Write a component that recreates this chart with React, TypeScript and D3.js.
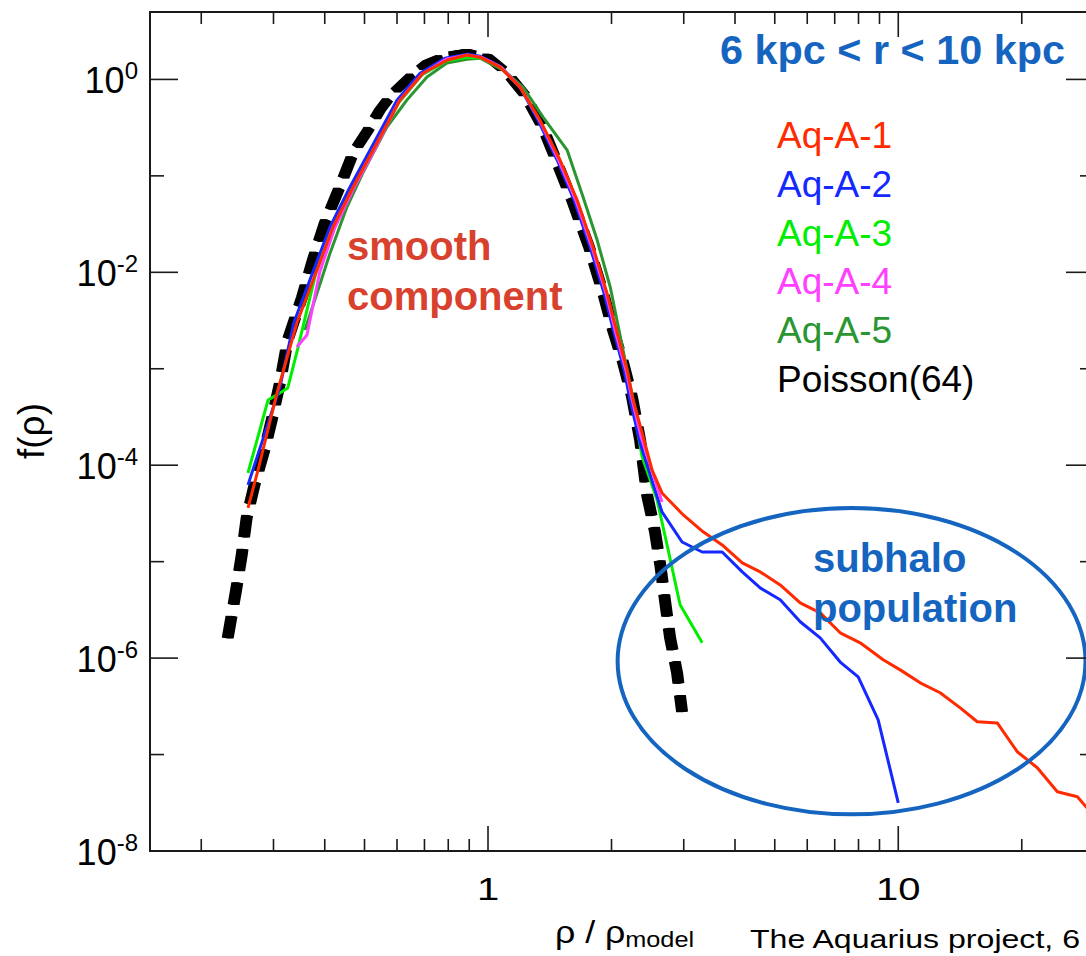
import React from 'react';
import * as d3 from 'd3';

const W = 1086;
const H = 956;
const FONT = "'Liberation Sans', Arial, Helvetica, sans-serif";

// ---- axes ----
const xDomain = [0.15, 30];
const yDomain = [1e-8, 5];
const xMajorTicks = [1, 10];
const xTickLabels = ['1', '10'];
const xMinorTicks = [0.2, 0.3, 0.4, 0.5, 0.6, 0.7, 0.8, 0.9, 2, 3, 4, 5, 6, 7, 8, 9, 20, 30];
const yMajorTicks = [1, 1e-2, 1e-4, 1e-6, 1e-8];
const yTickExponents = ['0', '-2', '-4', '-6', '-8'];
const yMinorTicks = [1e-1, 1e-3, 1e-5, 1e-7];

// ---- series ----
const poissonX = [0.232, 0.243, 0.251, 0.258, 0.270, 0.286, 0.297, 0.311, 0.325, 0.352, 0.374, 0.400, 0.435, 0.469, 0.510, 0.545, 0.586, 0.645, 0.710, 0.794, 0.889, 1.0, 1.108, 1.231, 1.362, 1.465, 1.602, 1.763, 1.908, 2.017, 2.133, 2.244, 2.348, 2.442, 2.553, 2.630, 2.703, 2.779, 2.890, 2.972];
const poissonY = [1.62e-6, 4.98e-6, 1.17e-5, 2.84e-5, 6.4e-5, 1.51e-4, 2.94e-4, 7.1e-4, 1.99e-3, 5.5e-3, 1.34e-2, 3.25e-2, 7.66e-2, 0.172, 0.298, 0.480, 0.721, 1.06, 1.48, 1.79, 1.92, 1.70, 1.19, 0.687, 0.313, 0.146, 0.0561, 0.0183, 6.09e-3, 2.52e-3, 1.17e-3, 5.1e-4, 1.83e-4, 4.92e-5, 2.04e-5, 9.25e-6, 3.83e-6, 1.62e-6, 7.03e-7, 2.77e-7];

const aqA1X = [0.260, 0.275, 0.306, 0.342, 0.383, 0.419, 0.469, 0.536, 0.610, 0.694, 0.794, 0.889, 0.956, 1.070, 1.197, 1.339, 1.498, 1.649, 1.803, 1.950, 2.065, 2.183, 2.258, 2.375, 2.512, 2.655, 2.992, 3.344, 3.722, 4.166, 4.607, 5.155, 5.768, 6.452, 7.219, 8.076, 9.187, 10.11, 11.31, 12.65, 14.16, 15.58, 17.43, 19.50, 21.82, 24.42, 27.33, 29.39];
const aqA1Y = [3.61e-5, 8.9e-5, 5.61e-4, 2.98e-3, 0.0106, 0.0295, 0.0766, 0.219, 0.610, 1.16, 1.58, 1.79, 1.70, 1.34, 0.832, 0.379, 0.146, 0.0561, 0.0183, 6.09e-3, 2.35e-3, 9.7e-4, 4.75e-4, 2.16e-4, 8.9e-5, 5.16e-5, 3.05e-5, 2.04e-5, 1.49e-5, 9.7e-6, 7.83e-6, 5.74e-6, 3.74e-6, 2.94e-6, 1.83e-6, 1.44e-6, 9.6e-7, 7.55e-7, 5.54e-7, 4.37e-7, 3.05e-7, 2.19e-7, 2.13e-7, 1.07e-7, 7.3e-8, 4.11e-8, 3.65e-8, 2.55e-8];

const aqA2X = [0.260, 0.311, 0.336, 0.376, 0.412, 0.461, 0.527, 0.600, 0.683, 0.785, 0.889, 0.956, 1.070, 1.197, 1.324, 1.474, 1.621, 1.773, 1.918, 2.029, 2.147, 2.219, 2.348, 2.655, 2.972, 3.327, 3.722, 4.166, 4.607, 5.155, 5.768, 6.452, 7.219, 7.985, 8.933, 10.0];
const aqA2Y = [6.25e-5, 6.47e-4, 2.98e-3, 0.0106, 0.0295, 0.0766, 0.219, 0.610, 1.16, 1.66, 1.83, 1.74, 1.37, 0.832, 0.379, 0.146, 0.0561, 0.0183, 6.09e-3, 2.35e-3, 9.7e-4, 4.75e-4, 1.70e-4, 3.28e-5, 1.60e-5, 1.26e-5, 1.26e-5, 7.83e-6, 5.35e-6, 4.02e-6, 2.38e-6, 1.62e-6, 9.1e-7, 6.39e-7, 2.29e-7, 3.16e-8];

const aqA3X = [0.260, 0.291, 0.311, 0.325, 0.344, 0.381, 0.419, 0.466, 0.533, 0.607, 0.690, 0.790, 0.889, 0.967, 1.082, 1.203, 1.339, 1.490, 1.640, 1.794, 1.941, 2.052, 2.171, 2.244, 2.375, 2.583, 2.748, 2.939, 3.327];
const aqA3Y = [8.3e-5, 4.75e-4, 5.61e-4, 6.32e-4, 1.64e-3, 0.0101, 0.0288, 0.0748, 0.208, 0.581, 1.11, 1.55, 1.70, 1.66, 1.31, 0.812, 0.360, 0.139, 0.0535, 0.0174, 5.81e-3, 2.24e-3, 9.3e-4, 4.75e-4, 1.22e-4, 4.37e-5, 1.33e-5, 3.57e-6, 1.44e-6];

const aqA4X = [0.342, 0.362, 0.389, 0.423, 0.471, 0.536, 0.607, 0.690, 0.790, 0.889, 0.962, 1.076, 1.203, 1.339, 1.490, 1.640, 1.794, 1.941, 2.052, 2.171, 2.244, 2.361, 2.655];
const aqA4Y = [1.68e-3, 2.24e-3, 0.0101, 0.0288, 0.0748, 0.208, 0.595, 1.13, 1.62, 1.79, 1.70, 1.34, 0.812, 0.369, 0.142, 0.0548, 0.0179, 5.96e-3, 2.29e-3, 9.5e-4, 4.87e-4, 1.96e-4, 4.17e-5];

const aqA5X = [0.358, 0.412, 0.453, 0.495, 0.567, 0.634, 0.710, 0.794, 0.889, 0.956, 1.088, 1.217, 1.362, 1.559, 1.705, 1.845, 1.986, 2.133, 2.271];
const aqA5Y = [2.52e-3, 0.0158, 0.0475, 0.107, 0.321, 0.610, 1.06, 1.48, 1.62, 1.66, 1.25, 0.832, 0.407, 0.185, 0.0603, 0.0216, 7.03e-3, 1.57e-3, 4.22e-4];

const legendLabels = ['Aq-A-1', 'Aq-A-2', 'Aq-A-3', 'Aq-A-4', 'Aq-A-5', 'Poisson(64)'];
const legendColors = ['#ff2a00', '#1428ff', '#00ee00', '#ff40ff', '#2a9632', '#000000'];

// annotation ellipse bounds (data space)
const ellipseXRange = [2.07, 28.6];
const ellipseYRange = [2.4e-8, 3.6e-5];

const ANN_BLUE = '#1565c0';
const ANN_RED = '#d8412e';

function pairs(xs: number[], ys: number[]): [number, number][] {
  const n = Math.min(xs.length, ys.length);
  const out: [number, number][] = [];
  for (let i = 0; i < n; i++) out.push([xs[i], ys[i]]);
  return out;
}

export default function App() {
  const x = d3.scaleLog().domain(xDomain).range([150, 1094]);
  const y = d3.scaleLog().domain(yDomain).range([851, 12]);
  const line = d3.line<[number, number]>().x(d => x(d[0])).y(d => y(d[1]));

  const left = x.range()[0];
  const right = x.range()[1];
  const bottom = y.range()[0];
  const top = y.range()[1];

  const colored = [
    { xs: aqA5X, ys: aqA5Y, color: legendColors[4] },
    { xs: aqA3X, ys: aqA3Y, color: legendColors[2] },
    { xs: aqA2X, ys: aqA2Y, color: legendColors[1] },
    { xs: aqA4X, ys: aqA4Y, color: legendColors[3] },
    { xs: aqA1X, ys: aqA1Y, color: legendColors[0] },
  ];

  const poissonPath = line(pairs(poissonX, poissonY)) || '';
  const penOffsets = [-3, -2, -1, 0, 1, 2, 3];

  const ex0 = x(ellipseXRange[0]);
  const ex1 = x(ellipseXRange[1]);
  const ey0 = y(ellipseYRange[1]);
  const ey1 = y(ellipseYRange[0]);

  const axisColor = '#1a1a1a';

  return (
    <svg width={W} height={H} style={{ position: 'absolute', left: 0, top: 0, background: '#fff' }} fontFamily={FONT}>
      <defs>
        <clipPath id="plotclip">
          <rect x={left} y={top} width={right - left} height={bottom - top} />
        </clipPath>
      </defs>

      {/* Poisson dashed curve */}
      <g clipPath="url(#plotclip)">
        {penOffsets.map(o => (
          <path key={o} d={poissonPath} transform={`translate(${o},0)`} fill="none" stroke="#000" strokeWidth={6} strokeDasharray="22 12" />
        ))}
        {colored.map((s, i) => (
          <path key={i} d={line(pairs(s.xs, s.ys)) || ''} fill="none" stroke={s.color} strokeWidth={3} strokeLinejoin="round" />
        ))}
      </g>

      {/* ellipse annotation */}
      <ellipse cx={(ex0 + ex1) / 2} cy={(ey0 + ey1) / 2} rx={(ex1 - ex0) / 2} ry={(ey1 - ey0) / 2} fill="none" stroke={ANN_BLUE} strokeWidth={4} />

      {/* frame */}
      <rect x={left} y={top} width={right - left} height={bottom - top} fill="none" stroke={axisColor} strokeWidth={2} />

      {/* x ticks */}
      {xMajorTicks.map(t => (
        <g key={'xM' + t}>
          <line x1={x(t)} x2={x(t)} y1={bottom} y2={bottom - 25} stroke={axisColor} strokeWidth={1.6} />
          <line x1={x(t)} x2={x(t)} y1={top} y2={top + 25} stroke={axisColor} strokeWidth={1.6} />
        </g>
      ))}
      {xMinorTicks.map(t => (
        <g key={'xm' + t}>
          <line x1={x(t)} x2={x(t)} y1={bottom} y2={bottom - 12} stroke={axisColor} strokeWidth={1.6} />
          <line x1={x(t)} x2={x(t)} y1={top} y2={top + 12} stroke={axisColor} strokeWidth={1.6} />
        </g>
      ))}
      {xMajorTicks.map((t, i) => (
        <text key={'xl' + t} transform={`translate(${x(t)},900) scale(1.25,1)`} textAnchor="middle" fontSize={32} fill="#000">{xTickLabels[i]}</text>
      ))}

      {/* y ticks */}
      {yMajorTicks.map(t => (
        <g key={'yM' + t}>
          <line x1={left} x2={left + 28} y1={y(t)} y2={y(t)} stroke={axisColor} strokeWidth={1.6} />
          <line x1={right} x2={right - 28} y1={y(t)} y2={y(t)} stroke={axisColor} strokeWidth={1.6} />
        </g>
      ))}
      {yMinorTicks.map(t => (
        <g key={'ym' + t}>
          <line x1={left} x2={left + 14} y1={y(t)} y2={y(t)} stroke={axisColor} strokeWidth={1.6} />
          <line x1={right} x2={right - 14} y1={y(t)} y2={y(t)} stroke={axisColor} strokeWidth={1.6} />
        </g>
      ))}
      {yMajorTicks.map((t, i) => (
        <text key={'yl' + t} x={138} y={y(t) + 14} textAnchor="end" fontSize={36} fill="#000">
          10<tspan fontSize={24} dy={-14}>{yTickExponents[i]}</tspan>
        </text>
      ))}

      {/* axis titles */}
      <text transform="translate(44,431) rotate(-90)" textAnchor="middle" fontSize={37} fill="#000">f(ρ)</text>
      <text transform="translate(555,943) scale(1.15,1)" fontSize={31} fill="#000">
        ρ / ρ<tspan fontSize={22} dy={4}>model</tspan>
      </text>
      <text x={750} y={948} fontSize={25} fill="#000" textLength={330} lengthAdjust="spacingAndGlyphs">The Aquarius project, 6</text>

      {/* annotations */}
      <text x={720} y={64} fontSize={40} fontWeight="bold" fill={ANN_BLUE} textLength={345} lengthAdjust="spacingAndGlyphs">6 kpc &lt; r &lt; 10 kpc</text>
      <text x={347} y={260} fontSize={40} fontWeight="bold" fill={ANN_RED}>smooth</text>
      <text x={347} y={310} fontSize={40} fontWeight="bold" fill={ANN_RED}>component</text>
      <text x={813} y={572} fontSize={40} fontWeight="bold" fill={ANN_BLUE}>subhalo</text>
      <text x={813} y={622} fontSize={40} fontWeight="bold" fill={ANN_BLUE}>population</text>

      {/* legend */}
      {legendLabels.map((l, i) => (
        <text key={l} x={777} y={148 + i * 48.8} fontSize={37} fill={legendColors[i]}>{l}</text>
      ))}
    </svg>
  );
}
